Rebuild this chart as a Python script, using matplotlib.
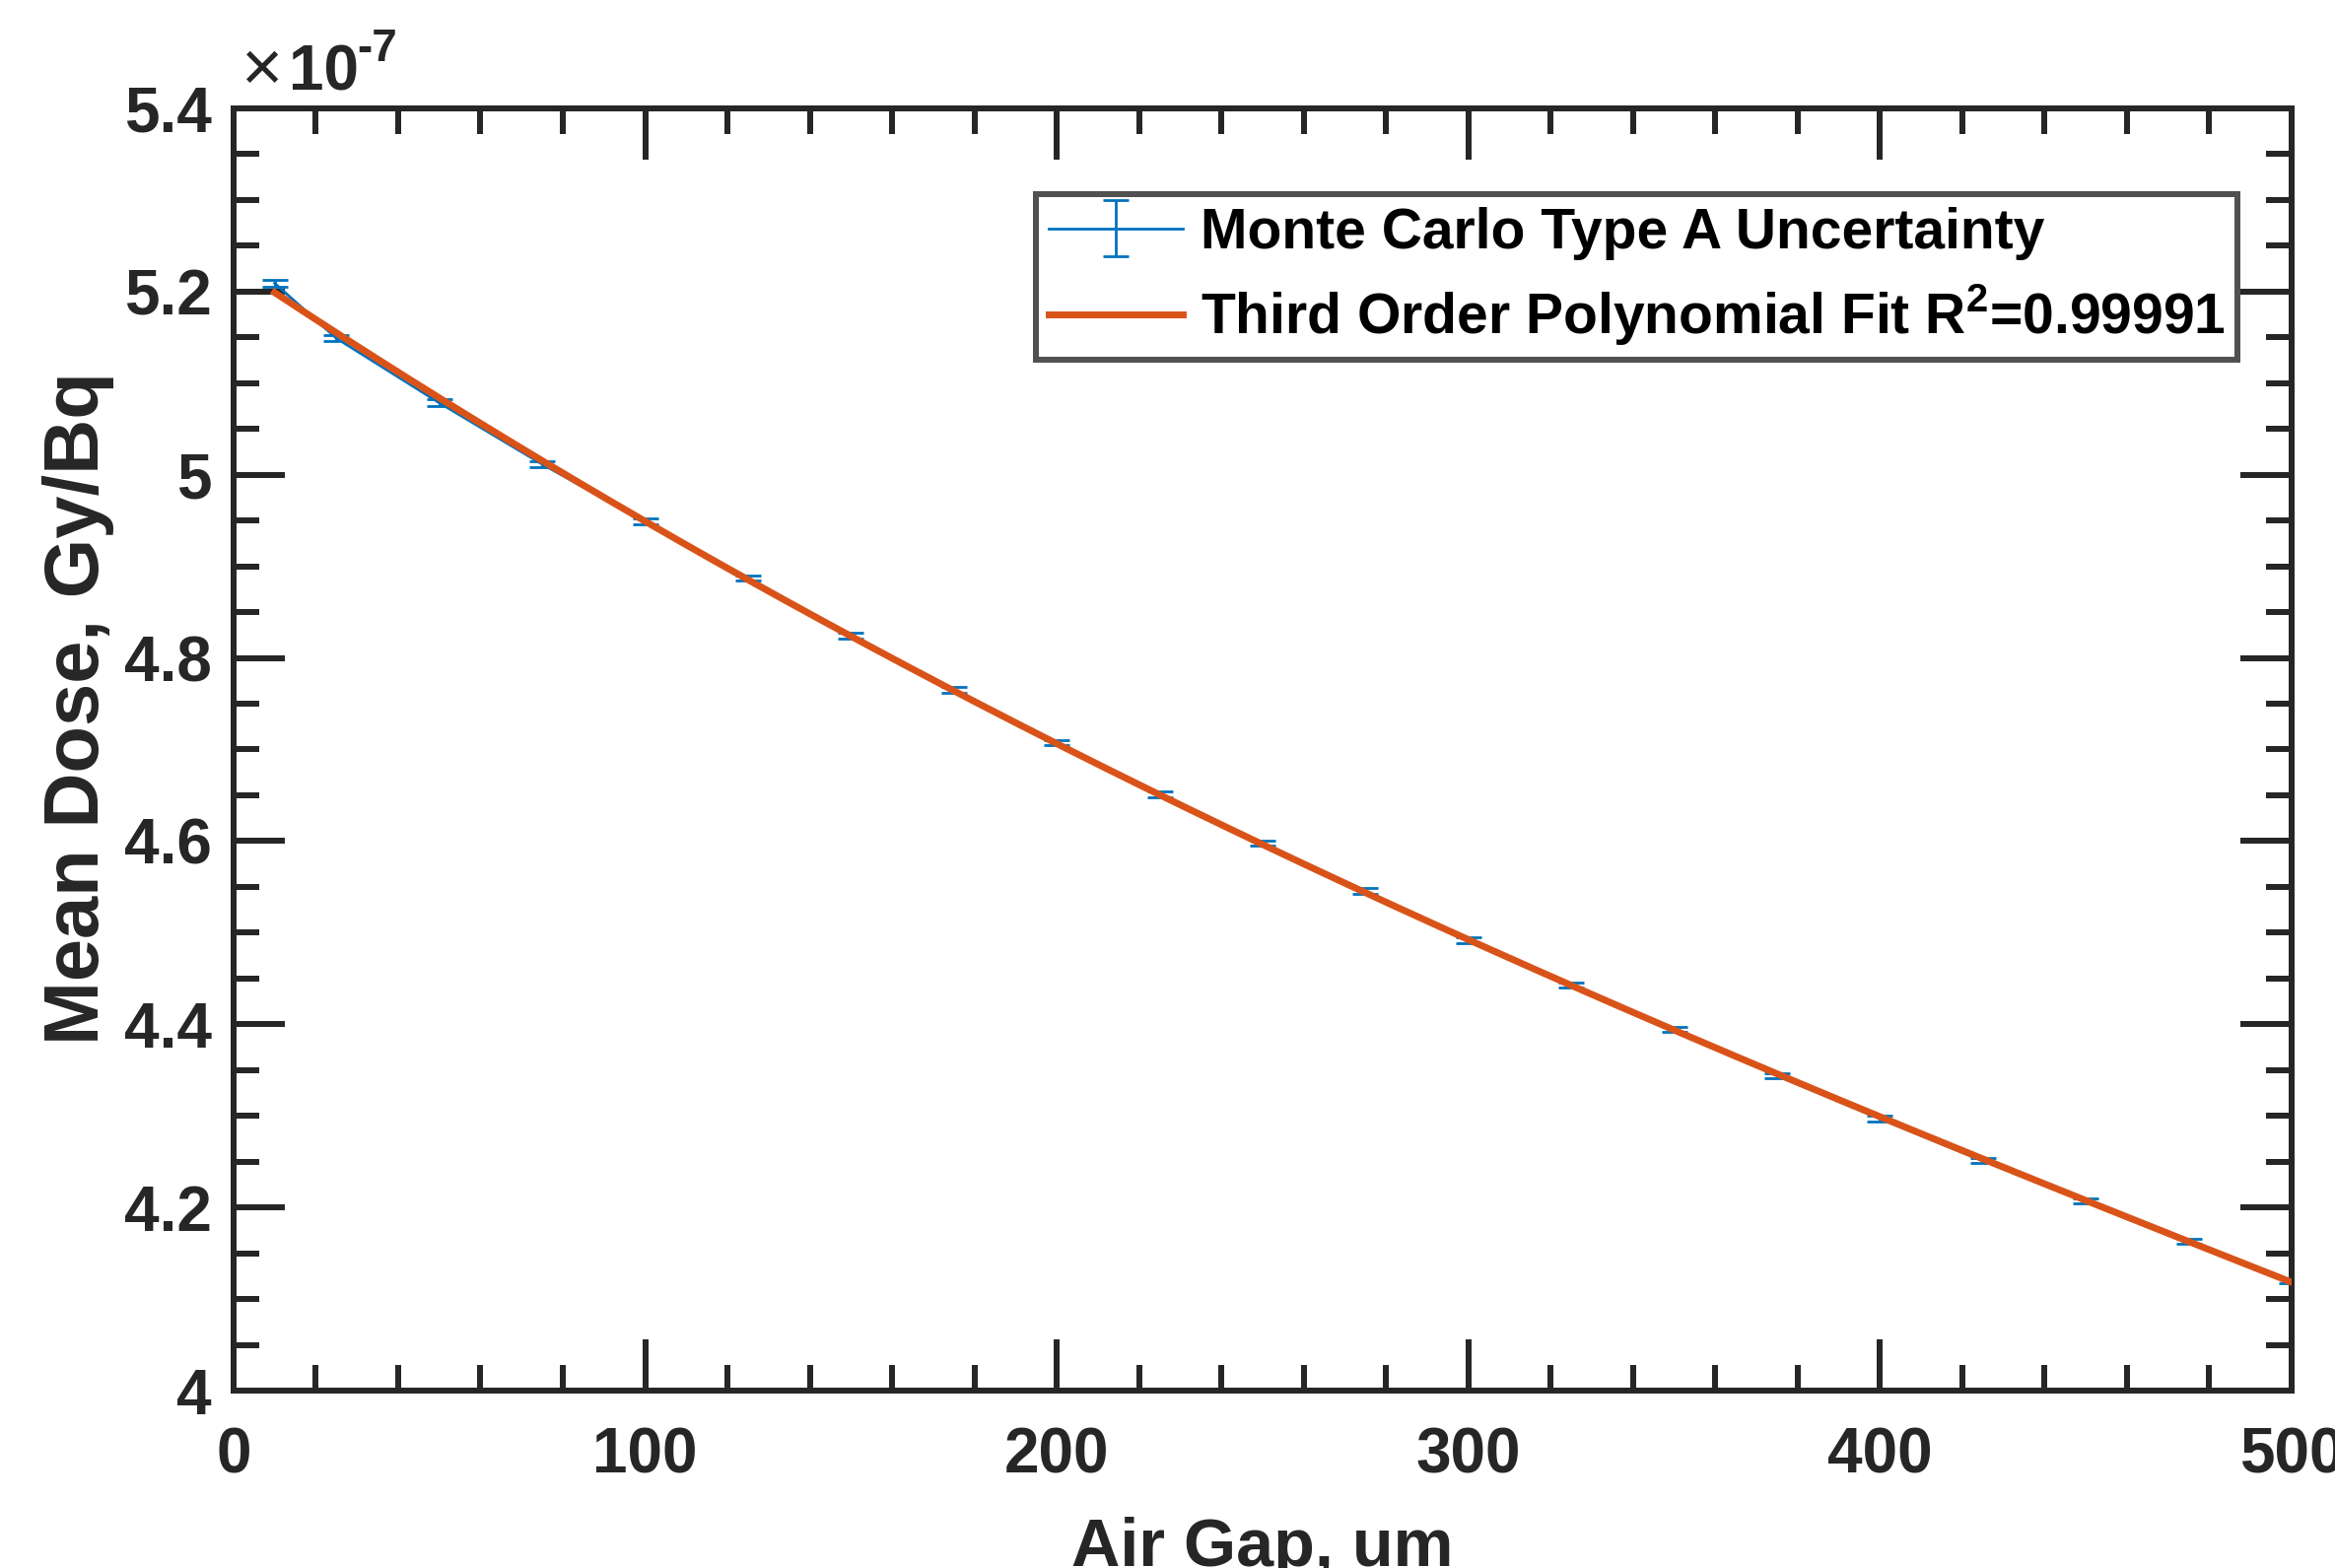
import numpy as np
import matplotlib
matplotlib.use("Agg")
import matplotlib.pyplot as plt
from matplotlib.ticker import MultipleLocator, FormatStrFormatter

# data (dose in units of 1e-7 Gy/Bq)
air_gap = [10, 25, 50, 75, 100, 125, 150, 175, 200, 225, 250,
           275, 300, 325, 350, 375, 400, 425, 450, 475, 500]
dose = [5.209, 5.149, 5.0785, 5.0115, 4.949, 4.8874, 4.8244, 4.7649, 4.7075, 4.651, 4.5976,
        4.5456, 4.492, 4.443, 4.3946, 4.344, 4.297, 4.2509, 4.2072, 4.1634, 4.1204]
dose_err = [0.004, 0.0035, 0.0035, 0.0032, 0.003, 0.003, 0.003, 0.003, 0.003, 0.003, 0.003,
            0.003, 0.003, 0.003, 0.0028, 0.0028, 0.0028, 0.0028, 0.0028, 0.0028, 0.0028]
r2_label = "0.99991"

plt.rcParams["font.family"] = ["Liberation Sans", "DejaVu Sans"]
plt.rcParams["font.weight"] = "bold"
plt.rcParams["axes.labelweight"] = "bold"
plt.rcParams["mathtext.fontset"] = "custom"
plt.rcParams["mathtext.bf"] = "Liberation Sans:bold"
plt.rcParams["mathtext.rm"] = "Liberation Sans:bold"

AX_COLOR = "#262626"
BLUE = "#0072BD"
ORANGE = "#D95319"

fig = plt.figure(figsize=(2369 / 200, 1591 / 200), dpi=200)
ax = fig.add_axes([0.1000, 0.1131, 0.8814, 0.8178])

eb = ax.errorbar(air_gap, dose, yerr=dose_err, color=BLUE, linewidth=1.0,
                 elinewidth=1.0, capsize=4.8, capthick=1.0,
                 label="Monte Carlo Type A Uncertainty", zorder=2)

# third order polynomial fit through the read points
coef = np.polyfit(air_gap, dose, 3)
xf = np.linspace(min(air_gap), max(air_gap), 300)
fit_line, = ax.plot(xf, np.polyval(coef, xf), color=ORANGE, linewidth=2.5,
                    label="Third Order Polynomial Fit R$^{\\mathbf{2}}$=" + r2_label, zorder=3)

ax.set_xlim(0, 500)
ax.set_ylim(4, 5.4)
ax.xaxis.set_major_locator(MultipleLocator(100))
ax.xaxis.set_minor_locator(MultipleLocator(20))
ax.yaxis.set_major_locator(MultipleLocator(0.2))
ax.yaxis.set_minor_locator(MultipleLocator(0.05))
ax.yaxis.set_major_formatter(FormatStrFormatter("%g"))

for s in ax.spines.values():
    s.set_linewidth(2.16)
    s.set_color(AX_COLOR)

ax.tick_params(which="both", direction="in", top=True, right=True,
               width=2.16, color=AX_COLOR, labelcolor=AX_COLOR, labelsize=23)
ax.tick_params(which="major", length=18.7)
ax.tick_params(which="minor", length=9.4)
ax.tick_params(axis="x", pad=13)
ax.tick_params(axis="y", pad=8)

ax.set_xlabel("Air Gap, um", fontsize=24.6, color=AX_COLOR, fontweight="bold")
ax.xaxis.set_label_coords(0.5, -0.137)
ax.xaxis.label.set_va("baseline")
ax.set_ylabel("Mean Dose, Gy/Bq", fontsize=28, color=AX_COLOR, fontweight="bold")
ax.yaxis.set_label_coords(-0.0752, 0.532)
ax.yaxis.label.set_va("center")

# MATLAB style exponent label
ax.text(0.004, 1.0138, "\u00d7", transform=ax.transAxes, fontsize=26,
        fontweight="normal", color=AX_COLOR, va="baseline", ha="left")
ax.text(0.027, 1.0138, "10", transform=ax.transAxes, fontsize=23,
        color=AX_COLOR, va="baseline", ha="left")
ax.text(0.060, 1.037, "-7", transform=ax.transAxes, fontsize=16.5,
        color=AX_COLOR, va="baseline", ha="left")

leg = ax.legend([eb, fit_line], [eb.get_label(), fit_line.get_label()],
                loc="upper right", bbox_to_anchor=(0.9737, 0.9331),
                fontsize=20.5, frameon=True, fancybox=False,
                borderaxespad=0, borderpad=0.22, handlelength=2.4,
                handletextpad=0.3, labelspacing=0.4)
leg.get_frame().set_edgecolor(AX_COLOR)
leg.get_frame().set_linewidth(2.16)
for t in leg.get_texts():
    t.set_color("black")

fig.savefig("out.png", dpi=200)
